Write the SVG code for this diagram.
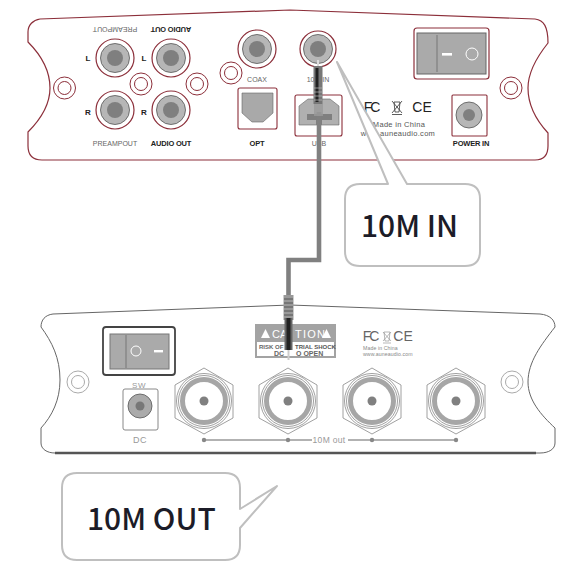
<svg xmlns="http://www.w3.org/2000/svg" width="575" height="587" viewBox="0 0 575 587">
<style>
text{font-family:"Liberation Sans",Arial,sans-serif}
.panelA{fill:#fff;stroke:#8c2f3a;stroke-width:1.2}
.panelB{fill:#fff;stroke:#666;stroke-width:1}
.rim{fill:#fff;stroke:#8c2f3a;stroke-width:1.2}
.mtA{fill:none;stroke:#8c2f3a;stroke-width:1}
.mtB{fill:none;stroke:#aaa;stroke-width:1}
.g1{fill:#b6b6b6;stroke:#555;stroke-width:.8}
.g2{fill:#7f7f7f}
.lblk{font-size:7.5px;font-weight:bold;fill:#222;text-anchor:middle;letter-spacing:-.2px}
.lgry{font-size:7px;fill:#666;text-anchor:middle}
.lgt{font-size:9px;fill:#999;text-anchor:middle;letter-spacing:.5px}
.sw{fill:none;stroke:#fff;stroke-width:1}
.call{fill:#fff;stroke:#bfbfbf;stroke-width:2;stroke-linejoin:round}
.ct{font-family:"Noto Sans CJK SC","Noto Sans",sans-serif;font-size:30px;font-weight:500;fill:#1c1c28}
.hex{fill:#fff;stroke:#888;stroke-width:.8}
.bnc1{fill:#fff;stroke:#777;stroke-width:.7}
.bnc2{fill:#fff;stroke:#a6a6a6;stroke-width:5}
.cab{fill:none;stroke:#808080;stroke-width:4.6}
</style>

<g id="panel-top">
<path class="panelA" d="M40 19 L290 10 L535 19 C544 20 548 27 548 43 C536 58 528 72 528 88 C528 105 536 120 548 133 L548 146 C548 155 544 160 535 160 L42 160 C33 160 28 155 28 146 L28 132 C42 118 50 104 50 88 C50 70 42 56 28 42 L28 32 C28 25 33 20 40 19 Z"/>
</g>
<g id="panel-bottom">
<path class="panelB" d="M53 314 L290 305 L540 314 C550 315 555 320 555 327 C541 345 528 362 528 382 C528 400 541 415 555 428 L555 443 C555 449 549 453 540 453 L55 453 C47 453 41 449 41 443 L41 428 C52 416 60 400 60 380 C60 358 52 342 41 327 C41 320 45 315 53 314 Z"/>
<path d="M55 453 H536" stroke="#555" stroke-width="2.600" fill="none"/>
</g>

<g id="mount-a1"><circle class="mtA" cx="64.500" cy="88" r="11"/><circle class="mtA" cx="64.500" cy="88" r="6.500"/></g>
<g id="mount-a2"><circle class="mtA" cx="141" cy="84" r="11"/><circle class="mtA" cx="141" cy="84" r="6.500"/></g>
<g id="mount-a3"><circle class="mtA" cx="197" cy="84" r="11"/><circle class="mtA" cx="197" cy="84" r="6.500"/></g>
<g id="mount-a4"><circle class="mtA" cx="231" cy="73" r="11"/><circle class="mtA" cx="231" cy="73" r="6.500"/></g>
<g id="mount-a5"><circle class="mtA" cx="511" cy="88" r="11"/><circle class="mtA" cx="511" cy="88" r="6.500"/></g>

<g id="rca-preamp-l"><circle class="rim" cx="115" cy="58" r="19"/><circle class="g1" cx="115" cy="58" r="14.500"/><circle class="g2" cx="115" cy="58" r="8"/></g>
<g id="rca-audio-l"><circle class="rim" cx="171" cy="58" r="19"/><circle class="g1" cx="171" cy="58" r="14.500"/><circle class="g2" cx="171" cy="58" r="8"/></g>
<g id="rca-preamp-r"><circle class="rim" cx="115" cy="110" r="19"/><circle class="g1" cx="115" cy="110" r="14.500"/><circle class="g2" cx="115" cy="110" r="8"/></g>
<g id="rca-audio-r"><circle class="rim" cx="171" cy="110" r="19"/><circle class="g1" cx="171" cy="110" r="14.500"/><circle class="g2" cx="171" cy="110" r="8"/></g>
<g id="rca-coax"><circle class="rim" cx="257" cy="49" r="19"/><circle class="g1" cx="257" cy="49" r="14.500"/><circle class="g2" cx="257" cy="49" r="8"/></g>
<g id="rca-10m-in"><circle class="rim" cx="318" cy="49" r="18"/><circle class="g1" cx="318" cy="49" r="14.500"/><circle class="g2" cx="318" cy="49" r="8"/></g>

<g id="labels-top">
<text class="lgry" transform="rotate(180 115 27)" x="115" y="27">PREAMPOUT</text>
<text class="lblk" transform="rotate(180 171 27)" x="171" y="27">AUDIO OUT</text>
<text x="88" y="61" font-size="8" font-weight="bold" fill="#222" text-anchor="middle">L</text>
<text x="144" y="61" font-size="8" font-weight="bold" fill="#222" text-anchor="middle">L</text>
<text x="88" y="115" font-size="8" font-weight="bold" fill="#222" text-anchor="middle">R</text>
<text x="144" y="115" font-size="8" font-weight="bold" fill="#222" text-anchor="middle">R</text>
<text class="lgry" x="115" y="146">PREAMPOUT</text>
<text class="lblk" x="171" y="146">AUDIO OUT</text>
<text class="lgry" x="257" y="82">COAX</text>
<text class="lblk" x="257" y="146">OPT</text>
<text class="lgry" x="318" y="82">10M IN</text>
<text class="lgry" x="319" y="146">USB</text>
<text class="lblk" x="471" y="146">POWER IN</text>
</g>

<g id="opt">
<rect x="238" y="88" width="39" height="41" rx="2" fill="#fff" stroke="#8c2f3a" stroke-width="1.100"/>
<path d="M242 93 H273 V113 L263 122 H252 L242 113 Z" fill="#a9a9a9" stroke="#666" stroke-width=".6"/>
</g>
<g id="usb">
<rect x="295" y="95" width="47" height="41" rx="2" fill="#fff" stroke="#8c2f3a" stroke-width="1.100"/>
<path d="M299 106 L308 99 H330 L339 106 V125 H299 Z" fill="#b0b0b0" stroke="#666" stroke-width=".6"/>
<path d="M307 114 H332 V120 H322 V125 H316 V120 H307 Z" fill="#7f7f7f"/>
</g>
<g id="power-in">
<rect x="452" y="95" width="35" height="41" rx="1" fill="#fff" stroke="#8c2f3a" stroke-width="1.100"/>
<circle cx="469" cy="115" r="13" fill="#b6b6b6" stroke="#555" stroke-width=".8"/>
<circle cx="469" cy="115" r="6" fill="#7f7f7f"/>
</g>
<g id="switch-top">
<rect x="414" y="28" width="75" height="51" rx="3" fill="#fff" stroke="#8c2f3a" stroke-width="1.200"/>
<rect x="417" y="33" width="69" height="41" fill="#aaa" stroke="#666" stroke-width="1"/>
<path d="M437 35 V72" stroke="#777" stroke-width="1"/>
<rect x="442" y="53" width="10" height="2.600" fill="#fff"/>
<circle class="sw" cx="472" cy="54" r="6"/>
</g>
<g id="logos-top">
<text x="371" y="112" font-size="14" fill="#222" text-anchor="middle" letter-spacing="-2">FC</text>
<path d="M392 101 L402 113 M402 101 L392 113 M394 102 H400 L399 112 H395 Z M392 114.500 H402" fill="none" stroke="#333" stroke-width=".8"/>
<text x="422" y="112" font-size="14" fill="#222" text-anchor="middle">CE</text>
<text x="399" y="127" font-size="7.500" fill="#555" text-anchor="middle" letter-spacing=".3">Made in China</text>
<text x="398" y="136" font-size="7.500" fill="#555" text-anchor="middle" letter-spacing=".3">www.auneaudio.com</text>
</g>

<g id="switch-bottom">
<rect x="103" y="327" width="72" height="48" rx="3" fill="#fff" stroke="#444" stroke-width="1.800"/>
<rect x="110" y="334" width="59" height="35" fill="#aaa" stroke="#777" stroke-width="1"/>
<path d="M126 335 V368" stroke="#777" stroke-width="1"/>
<circle class="sw" cx="136" cy="351" r="5"/>
<rect x="154" y="350" width="9" height="2.400" fill="#fff"/>
</g>
<g id="mount-b1"><circle class="mtB" cx="78" cy="382" r="11"/><circle class="mtB" cx="78" cy="382" r="6.500"/></g>
<g id="mount-b2"><circle class="mtB" cx="512" cy="382" r="11"/><circle class="mtB" cx="512" cy="382" r="6.500"/></g>
<g id="dc">
<text class="lgt" x="139" y="388" style="font-size:8px">SW</text>
<rect x="123" y="389" width="35" height="41" rx="2" fill="#fff" stroke="#888" stroke-width="1"/>
<circle cx="140" cy="406" r="12" fill="#aaa" stroke="#555" stroke-width=".8"/>
<circle cx="140" cy="406" r="4.500" fill="#777"/>
<text class="lgt" x="140" y="443">DC</text>
</g>

<g id="bnc-1"><polygon class="hex" points="204,368 233,385 233,418 204,434 175,418 175,385"/><circle class="bnc1" cx="204" cy="401" r="27.500"/><circle class="bnc1" cx="204" cy="401" r="25.500"/><circle class="bnc2" cx="204" cy="401" r="21.500"/><circle cx="204" cy="401" r="4.500" fill="#808080"/></g>
<g id="bnc-2"><polygon class="hex" points="288,368 317,385 317,418 288,434 259,418 259,385"/><circle class="bnc1" cx="288" cy="401" r="27.500"/><circle class="bnc1" cx="288" cy="401" r="25.500"/><circle class="bnc2" cx="288" cy="401" r="21.500"/><circle cx="288" cy="401" r="4.500" fill="#808080"/></g>
<g id="bnc-3"><polygon class="hex" points="372,368 401,385 401,418 372,434 343,418 343,385"/><circle class="bnc1" cx="372" cy="401" r="27.500"/><circle class="bnc1" cx="372" cy="401" r="25.500"/><circle class="bnc2" cx="372" cy="401" r="21.500"/><circle cx="372" cy="401" r="4.500" fill="#808080"/></g>
<g id="bnc-4"><polygon class="hex" points="456,368 485,385 485,418 456,434 427,418 427,385"/><circle class="bnc1" cx="456" cy="401" r="27.500"/><circle class="bnc1" cx="456" cy="401" r="25.500"/><circle class="bnc2" cx="456" cy="401" r="21.500"/><circle cx="456" cy="401" r="4.500" fill="#808080"/></g>

<g id="out-bus">
<path d="M204 440 H312 M348 440 H456" stroke="#999" stroke-width="1.400" fill="none"/>
<circle cx="204" cy="440" r="2.200" fill="#888"/><circle cx="288" cy="440" r="2.200" fill="#888"/><circle cx="372" cy="440" r="2.200" fill="#888"/><circle cx="456" cy="440" r="2.200" fill="#888"/>
<text x="329" y="443" font-size="8.500" fill="#999" text-anchor="middle" letter-spacing=".3">10M out</text>
</g>

<g id="caution">
<rect x="255" y="324" width="81" height="34" fill="#a3a3a3"/>
<rect x="257" y="342" width="77" height="14" fill="#fff"/>
<polygon points="261,338 270,338 265.500,329" fill="#fff"/>
<polygon points="322,338 331,338 326.500,329" fill="#fff"/>
<text x="272" y="338" font-size="11" fill="#fff">CA</text>
<text x="295" y="338" font-size="11" fill="#fff" letter-spacing="1.200">TION</text>
<text x="259" y="348.500" font-size="6" font-weight="bold" fill="#666">RISK OF</text>
<text x="295" y="348.500" font-size="6" fill="#555" font-weight="bold">TRIAL SHOCK</text>
<text x="274" y="355.500" font-size="7" font-weight="bold" fill="#666">DC</text>
<text x="296" y="355.500" font-size="7" font-weight="bold" fill="#666">O OPEN</text>
</g>
<g id="logos-bottom">
<text x="370" y="341" font-size="14" fill="#666" text-anchor="middle" letter-spacing="-2">FC</text>
<path d="M384 332 H390 L389 341 H385 Z M383 332 L391 341 M391 332 L383 341 M383 343 H391" fill="none" stroke="#888" stroke-width=".6"/>
<text x="403" y="341" font-size="14" fill="#666" text-anchor="middle">CE</text>
<text x="363" y="350" font-size="5.200" fill="#888" letter-spacing=".1">Made in China</text>
<text x="363" y="356" font-size="5.200" fill="#888" letter-spacing=".1">www.auneaudio.com</text>
</g>

<g id="callout-in">
<path class="call" d="M360 184 H388 L337 62 L407 184 H465 Q480 184 480 199 V251 Q480 266 465 266 H360 Q345 266 345 251 V199 Q345 184 360 184 Z"/>
<text class="ct" x="361" y="237">10M IN</text>
</g>
<g id="callout-out">
<path class="call" d="M77 473 H225 Q240 473 240 488 V509 L277 486 L240 528 V545 Q240 560 225 560 H77 Q62 560 62 545 V488 Q62 473 77 473 Z"/>
<text class="ct" x="87" y="530">10M OUT</text>
</g>

<g id="connectors">
<path class="cab" d="M319 112 V260 H288.500 V298"/>
<g id="plug-top">
<path d="M318 60 V66" stroke="#ddd" stroke-width="2"/>
<rect x="313.500" y="66" width="9" height="38" fill="#777"/>
<path d="M317 68 V102" stroke="#222" stroke-width="3"/>
<path d="M314 88 H322 M314 92 H322 M314 96 H322 M314 100 H322" stroke="#bbb" stroke-width=".7"/>
<rect x="314" y="104" width="9" height="12" fill="#9a9a9a" opacity=".8"/>
</g>
<g id="plug-bottom">
<rect x="283.500" y="295" width="10" height="25" fill="#999"/>
<path d="M284 299 H293 M284 303 H293 M284 307 H293 M284 311 H293 M284 315 H293" stroke="#555" stroke-width="1"/>
<rect x="284.500" y="318" width="8" height="32" fill="#666"/>
<path d="M288.500 318 V350" stroke="#222" stroke-width="4"/>
<path d="M288.500 350 V360" stroke="#ccc" stroke-width="2"/>
</g>
</g>
</svg>
